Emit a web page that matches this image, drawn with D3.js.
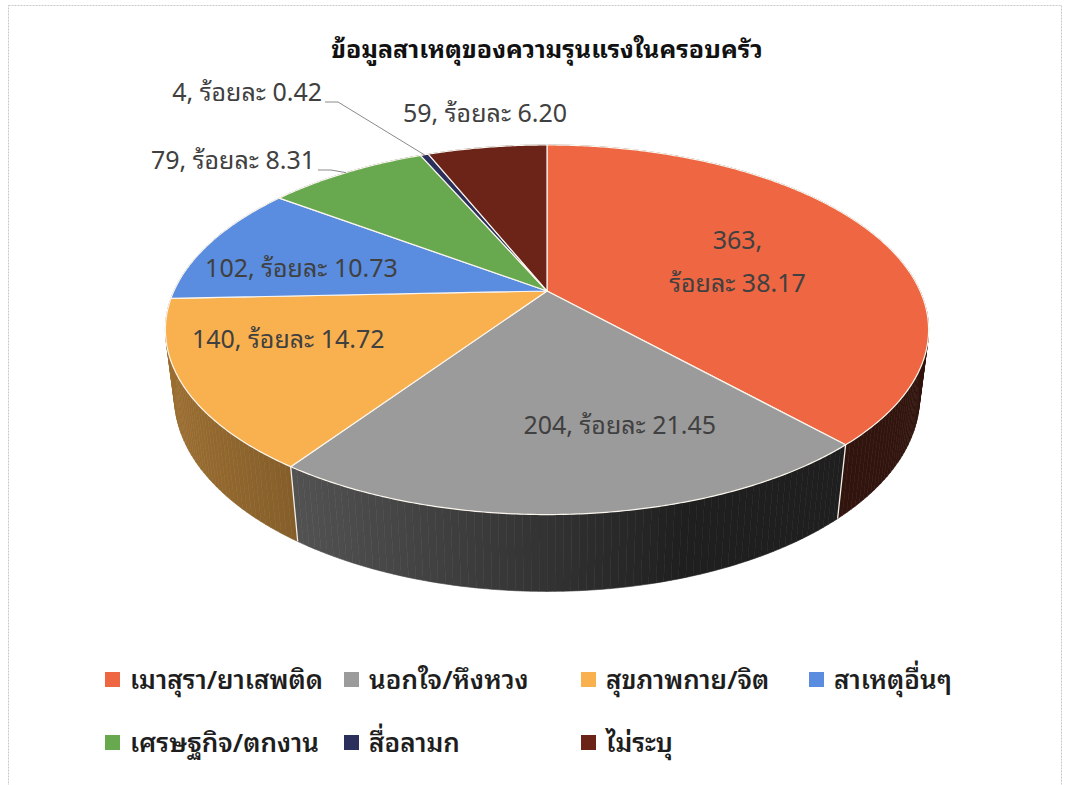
<!DOCTYPE html>
<html>
<head>
<meta charset="utf-8">
<script src="https://cdn.jsdelivr.net/npm/d3@7"></script>
<style>
  html, body { margin: 0; padding: 0; background: #fff; }
  svg { display: block; }
  text { font-family: Tahoma, "Noto Sans Thai Looped", "Noto Sans Thai", "Noto Sans", sans-serif; }
</style>
</head>
<body>
<svg id="chart" width="1067" height="785"></svg>
<script>
// ---------------- data ----------------
const title = "ข้อมูลสาเหตุของความรุนแรงในครอบครัว";
const categories = ["เมาสุรา/ยาเสพติด", "นอกใจ/หึงหวง", "สุขภาพกาย/จิต", "สาเหตุอื่นๆ", "เศรษฐกิจ/ตกงาน", "สื่อลามก", "ไม่ระบุ"];
const counts = [363, 204, 140, 102, 79, 4, 59];
const percents = ["38.17", "21.45", "14.72", "10.73", "8.31", "0.42", "6.20"];
const colors = ["#EE6642", "#9C9B9B", "#F9B14F", "#5A8DDF", "#68A84F", "#2B2F5C", "#6C2419"];

// ---------------- layout (style / placement) ----------------
const apex = { x: 547, y: 291 };       // projected pie centre
const cam = { D: 4.2, s: 0.4735, c: 0.881, f: 1567, h: 0.206 };
const labelPlace = [
  { mode: "in", r: 0.6, dx: -9, dy: 8, lines: 2 },
  { mode: "in", r: 0.6, dx: 55, dy: 13 },
  { mode: "in", r: 0.6, dx: -50, dy: -6 },
  { mode: "in", r: 0.6, dx: -39, dy: 7 },
  { mode: "lead", lx: 315, ly: 160 },
  { mode: "lead", lx: 322, ly: 92 },
  { mode: "out", dx: -2, dy: -34 }
];
const legendCols = [105, 344, 581, 809];
const legendRows = [680, 743];

const svg = d3.select("#chart");

svg.append("rect").attr("x", 8.5).attr("y", 5.5).attr("width", 1053).attr("height", 800)
  .attr("fill", "none").attr("stroke", "#c8c8c8").attr("stroke-width", 1).attr("stroke-dasharray", "2,1");

function proj(theta, r, z) {
  const x = r * Math.sin(theta), y = r * Math.cos(theta);
  const d = cam.D + y * cam.c - z * cam.s;
  return [apex.x + x * cam.f / d, apex.y - (y * cam.s + z * cam.c) * cam.f / d];
}

const arcs = d3.pie().sort(null).value(d => d)(counts);
const line = d3.line();

const segs = [];
arcs.forEach((a, i) => {
  const n = Math.max(1, Math.ceil((a.endAngle - a.startAngle) / (Math.PI / 180)));
  for (let k = 0; k < n; k++) {
    const t0 = a.startAngle + (a.endAngle - a.startAngle) * k / n;
    const t1 = a.startAngle + (a.endAngle - a.startAngle) * (k + 1) / n;
    segs.push({ i, t0, t1, depth: Math.cos((t0 + t1) / 2) });
  }
});
segs.sort((a, b) => b.depth - a.depth);

function shade(i, t) {
  const lit = Math.max(0, -Math.sin(t) * 0.8 - Math.cos(t) * 0.25);
  const k = 0.2 + 0.5 * lit;
  return d3.interpolateRgb("#000", colors[i])(k);
}

const sideG = svg.append("g");
segs.forEach(sg => {
  const pts = [proj(sg.t0, 1, 0), proj(sg.t1, 1, 0), proj(sg.t1, 1, -cam.h), proj(sg.t0, 1, -cam.h)];
  const col = shade(sg.i, (sg.t0 + sg.t1) / 2);
  sideG.append("path").attr("d", line(pts) + "Z").attr("fill", col).attr("stroke", col).attr("stroke-width", 0.6);
});

arcs.forEach(a => {
  const t = a.startAngle;
  if (Math.cos(t) < -0.27) {
    const p0 = proj(t, 1, 0), p1 = proj(t, 1, -cam.h);
    svg.append("line").attr("x1", p0[0]).attr("y1", p0[1]).attr("x2", p1[0]).attr("y2", p1[1])
      .attr("stroke", "#f4efe6").attr("stroke-width", 1.3);
  }
});

const topG = svg.append("g");
arcs.forEach((a, i) => {
  const n = Math.max(2, Math.ceil((a.endAngle - a.startAngle) / (Math.PI / 360)));
  const pts = [[apex.x, apex.y]];
  for (let k = 0; k <= n; k++) {
    const t = a.startAngle + (a.endAngle - a.startAngle) * k / n;
    pts.push(proj(t, 1, 0));
  }
  topG.append("path").attr("d", line(pts) + "Z").attr("fill", colors[i])
    .attr("stroke", "#fbf6ee").attr("stroke-width", 1.2).attr("stroke-linejoin", "round");
});

svg.append("text").attr("x", 547).attr("y", 58).attr("text-anchor", "middle")
  .attr("font-size", 25).attr("font-weight", "bold").attr("fill", "#111").text(title);

const labG = svg.append("g").attr("fill", "#404040").attr("font-size", 25);
arcs.forEach((a, i) => {
  const pl = labelPlace[i];
  const mid = (a.startAngle + a.endAngle) / 2;
  const txt = counts[i] + ", ร้อยละ " + percents[i];
  if (pl.mode === "in") {
    const p = proj(mid, pl.r, 0);
    const x = p[0] + pl.dx, y = p[1] + pl.dy;
    if (pl.lines === 2) {
      labG.append("text").attr("x", x).attr("y", y - 22).attr("dy", "0.35em").attr("text-anchor", "middle").text(counts[i] + ",");
      labG.append("text").attr("x", x).attr("y", y + 21).attr("dy", "0.35em").attr("text-anchor", "middle").text("ร้อยละ " + percents[i]);
    } else {
      labG.append("text").attr("x", x).attr("y", y).attr("dy", "0.35em").attr("text-anchor", "middle").text(txt);
    }
  } else if (pl.mode === "out") {
    const p = proj(mid, 1, 0);
    labG.append("text").attr("x", p[0] + pl.dx).attr("y", p[1] + pl.dy).attr("dy", "0.35em").attr("text-anchor", "middle").text(txt);
  } else {
    const p = proj(mid, 1, 0);
    labG.append("text").attr("x", pl.lx).attr("y", pl.ly).attr("dy", "0.35em").attr("text-anchor", "end").text(txt);
    const sx = pl.lx + 3, sy = pl.ly + 10;
    svg.append("path").attr("d", line([[sx, sy], [sx + 13, sy], p]))
      .attr("fill", "none").attr("stroke", "#8a8a8a").attr("stroke-width", 1);
  }
});

const legG = svg.append("g");
categories.forEach((c, i) => {
  const col = i % 4, row = Math.floor(i / 4);
  const x = legendCols[col], y = legendRows[row];
  legG.append("rect").attr("x", x).attr("y", y - 8).attr("width", 15).attr("height", 15).attr("fill", colors[i]);
  legG.append("text").attr("x", x + 25).attr("y", y).attr("dy", "0.35em")
    .attr("font-size", 26).attr("font-weight", 600).attr("fill", "#1e1e1e").text(c);
});
</script>
</body>
</html>
